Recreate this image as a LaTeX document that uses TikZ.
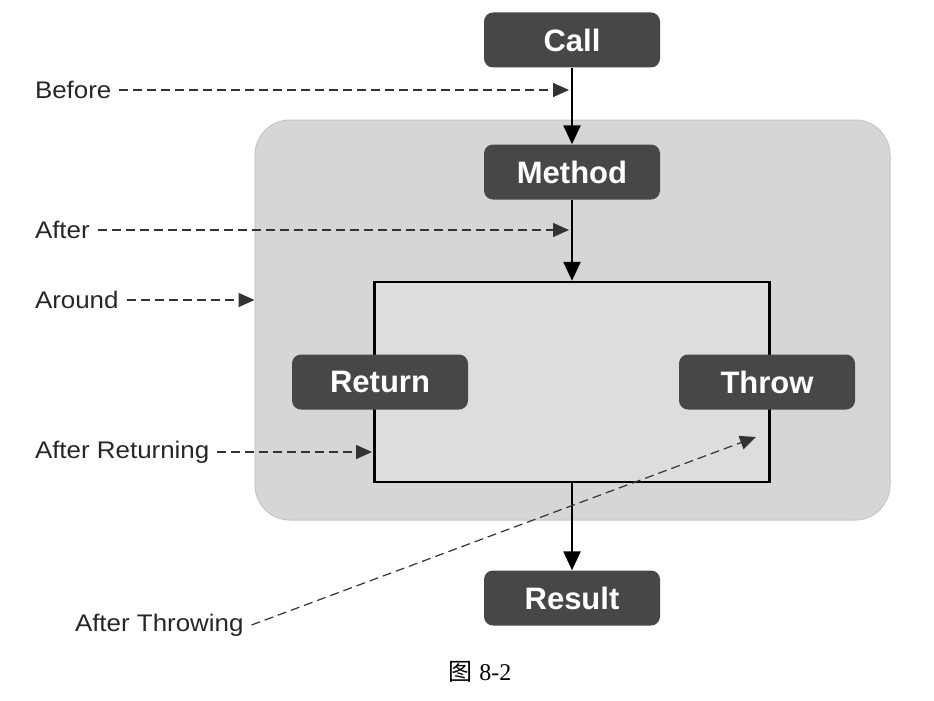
\documentclass[tikz,border=0pt]{standalone}
\usepackage{fontspec}
\setmainfont{Liberation Sans}
\newfontfamily\lblfont[FakeStretch=1.08]{Liberation Sans}
\newfontfamily\cjk{Noto Sans CJK SC}
\newfontfamily\capfont{Liberation Serif}
\usetikzlibrary{arrows.meta}
\definecolor{boxgray}{HTML}{474747}
\definecolor{aroundgray}{HTML}{D6D6D6}
\definecolor{innergray}{HTML}{DDDDDD}
\definecolor{dashgray}{HTML}{333333}

\begin{document}
\begin{tikzpicture}[x=1pt,y=-1pt,
	stepbox/.style={fill=boxgray, rounded corners=9pt, text=white, font=\fontsize{31}{34}\selectfont\bfseries, minimum width=176pt, minimum height=55pt, inner sep=0pt},
	lbl/.style={font=\lblfont\fontsize{24}{28}\selectfont, anchor=west, inner sep=0pt, outer xsep=8pt, text=black!85},
	flow/.style={line width=2.5pt, -{Triangle[length=19pt,width=17pt]}},
	hint/.style={dashgray, line width=1.5pt, dash pattern=on 9pt off 5pt, -{Triangle[length=16pt,width=14pt]}}]
	\useasboundingbox (0,0) rectangle (934,701);
	% region of the around advice
	\node (around) [fill=aroundgray, draw=gray!45, line width=1pt, rounded corners=35pt, minimum width=635pt, minimum height=400pt] at (572.5,320) {};
	\node (inner) [fill=innergray, draw, line width=2.5pt, minimum width=395pt, minimum height=200pt] at (572,382) {};
	% flow boxes
	\node (call) [stepbox] at (572,40) {Call};
	\node (method) [stepbox] at (572,172) {Method};
	\node (return) [stepbox] at (380,382) {Return};
	\node (throw) [stepbox] at (767,382) {Throw};
	\node (result) [stepbox] at (572,598) {Result};
	\draw[flow] (call) -- (method);
	\draw[flow] (method) -- (inner.north);
	\draw[flow] (inner.south) -- (result);
	% advice labels
	\node (before) [lbl] at (27,90) {Before};
	\node (after) [lbl] at (27,230) {After};
	\node (aroundlbl) [lbl] at (27,300) {Around};
	\node (afterret) [lbl] at (27,452) {After Returning};
	\node (afterthr) [lbl] at (67,625) {After Throwing};
	\coordinate (beforeend) at (569,90);
	\coordinate (afterend) at (569,230);
	\coordinate (retend) at (372,452);
	\coordinate (thrend) at (756,437);
	\draw[hint] (before.east) -- (beforeend);
	\draw[hint] (after.east) -- (afterend);
	\draw[hint] (aroundlbl.east) -- (around.west |- aroundlbl);
	\draw[hint] (afterret.east) -- (retend);
	\draw[hint, line width=1.2pt] (afterthr.east) -- (thrend);
	% caption
	\node (caption) [font=\fontsize{24}{28}\selectfont] at (480,672) {{\cjk 图} \capfont 8-2};
\end{tikzpicture}
\end{document}
